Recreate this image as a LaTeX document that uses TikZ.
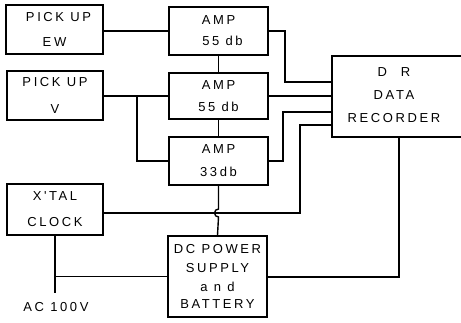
\documentclass[tikz,border=0pt]{standalone}
\usepackage{fontspec}
\newfontfamily\lbl{Liberation Sans}[LetterSpace=20]
\begin{document}
\begin{tikzpicture}[x=1pt,y=-1pt,
  box/.style={draw, line width=1.4pt, inner sep=0pt, align=center, font=\lbl\fontsize{13}{24}\selectfont},
  wire/.style={line width=1.4pt},
  txt/.style={inner sep=0pt, font=\lbl\fontsize{13}{24}\selectfont}]
\clip (0,0) rectangle (461,322);
\fill[white] (0,0) rectangle (461,322);
% boxes
\node[box, minimum width=97pt, minimum height=49pt] (ew) at (54.5,29.5) {\hspace*{8pt}PICK UP\\[1pt]EW};
\node[box, minimum width=96pt, minimum height=49pt] (v) at (55,95.5) {PICK UP\\[3pt]V};
\node[box, minimum width=99pt, minimum height=48pt, font=\lbl\fontsize{13}{21}\selectfont] (amp1) at (218.5,31) {AMP\\\hspace*{8pt}55 db};
\node[box, minimum width=99pt, minimum height=46pt, font=\lbl\fontsize{13}{22}\selectfont] (amp2) at (218.5,96) {AMP\\55 db};
\node[box, minimum width=99pt, minimum height=48pt, font=\lbl\fontsize{13}{23}\selectfont] (amp3) at (218.5,161) {AMP\\33db};
\node[box, minimum width=96pt, minimum height=51pt, font=\lbl\fontsize{13}{26}\selectfont] (clock) at (55,209.5) {X'TAL\\CLOCK};
\node[box, minimum width=99pt, minimum height=81pt, font=\lbl\fontsize{13}{19}\selectfont] (dc) at (217.5,276.5) {DC POWER\\SUPPLY\\a n d\\[-2pt]BATTERY};
\node[box, minimum width=136pt, minimum height=81pt, font=\lbl\fontsize{13}{23}\selectfont] (rec) at (400,96.5) {};
\node[txt, align=center, font=\lbl\fontsize{13}{23}\selectfont] (rect) at (394,95) {D\hspace{14pt}R\\DATA\\RECORDER};
\node[txt] (acl) at (56,307) {AC 100V};
% coordinates
\coordinate (br) at (137,96);
\coordinate (r1) at (332,82);
\coordinate (r3) at (332,112);
\coordinate (r4) at (332,125);
\coordinate (k1) at (285,31);
\coordinate (k3) at (283,161);
\coordinate (ck) at (300,213);
\coordinate (rd) at (399,277);
\coordinate (ac) at (55,293);
\coordinate (j) at (55,276.5);
\coordinate (hop) at (218.5,209);
% wires
\draw[wire] (ew.east |- amp1) -- (amp1.west);
\draw[wire] (v.east |- amp2) -- (amp2.west);
\draw[wire] (br) |- (amp3.west);
\draw[wire] (amp1.south) -- (amp2.north);
\draw[wire] (amp2.south) -- (amp3.north);
\draw[wire] (amp1.east) -- (k1) |- (r1);
\draw[wire] (amp2.east) -- (amp2.east -| rec.west);
\draw[wire] (amp3.east) -- (k3) |- (r3);
\draw[wire] (clock.east |- ck) -- (ck) |- (r4);
\draw[wire] (amp3.south) -- (hop) arc[start angle=90, end angle=270, radius=4pt] -- (dc.north);
\draw[wire] (rd |- rec.south) -- (rd) -- (dc.east |- rd);
\draw[wire] (clock.south) -- (ac);
\draw[wire] (j) -- (dc.west |- j);
\end{tikzpicture}
\end{document}
